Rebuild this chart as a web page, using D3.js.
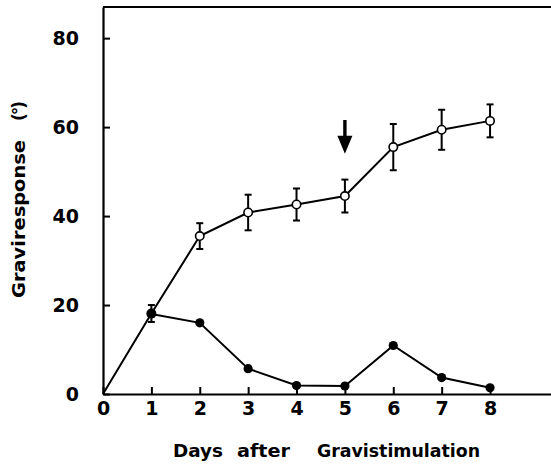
<!DOCTYPE html>
<html>
<head>
<meta charset="utf-8">
<script src="https://cdn.jsdelivr.net/npm/d3@7"></script>
<style>
  html, body { margin: 0; padding: 0; background: #fff; }
  svg { display: block; }
</style>
</head>
<body>
<svg id="chart" width="551" height="465"></svg>
<script>
// ---- data ----
const openDays   = [0, 1, 2, 3, 4, 5, 6, 7, 8];
const openValues = [0, 18.1, 35.5, 40.8, 42.6, 44.5, 55.5, 59.4, 61.4];
const openErrors = [0, 1.9, 2.9, 4.0, 3.6, 3.7, 5.2, 4.5, 3.7];
const filledDays   = [1, 2, 3, 4, 5, 6, 7, 8];
const filledValues = [18.0, 16.0, 5.7, 1.9, 1.8, 10.9, 3.7, 1.4];
const xTicks = [0, 1, 2, 3, 4, 5, 6, 7, 8];
const yTicks = [0, 20, 40, 60, 80];
const arrowDay = 5, arrowTop = 61.6, arrowBottom = 54.0;

const svg = d3.select("#chart");
const x = d3.scaleLinear().domain([0, 9.26]).range([103, 551]);
const y = d3.scaleLinear().domain([0, 87]).range([394, 7]);

const numFont = "'DejaVu Sans', sans-serif";
const titleFont = "'DejaVu Sans', sans-serif";

// top frame line
svg.append("line")
  .attr("x1", x(0)).attr("x2", x(9.26))
  .attr("y1", y(87)).attr("y2", y(87))
  .attr("stroke", "#000").attr("stroke-width", 2);

// axes
const yAxis = d3.axisLeft(y).tickValues(yTicks).tickSizeInner(-7).tickSizeOuter(0).tickPadding(24)
  .tickFormat(d3.format("d"));
const gy = svg.append("g").attr("transform", `translate(${x(0)},0)`).call(yAxis);
const xAxis = d3.axisBottom(x).tickValues(xTicks).tickSizeInner(-7).tickSizeOuter(0).tickPadding(8)
  .tickFormat(d3.format("d"));
const gx = svg.append("g").attr("transform", `translate(0,${y(0)})`).call(xAxis);

[gx, gy].forEach(g => {
  g.select(".domain").attr("stroke", "#000").attr("stroke-width", 2.2);
  g.selectAll(".tick line").attr("stroke", "#000").attr("stroke-width", 2);
  g.selectAll(".tick text").attr("fill", "#000")
    .style("font-family", numFont).style("font-weight", "bold").style("font-size", "19px");
});

// axis titles
const yt = svg.append("g").attr("transform", "translate(25,0) rotate(-90)");
yt.append("text").attr("x", -219).attr("y", 0).attr("text-anchor", "middle")
  .attr("textLength", 158).attr("lengthAdjust", "spacingAndGlyphs")
  .style("font-family", titleFont).style("font-weight", "bold").style("font-size", "17px")
  .text("Graviresponse");
yt.append("text").attr("x", -111).attr("y", 0).attr("text-anchor", "middle")
  .attr("textLength", 20).attr("lengthAdjust", "spacing")
  .style("font-family", titleFont).style("font-weight", "bold").style("font-size", "17px")
  .text("(°)");

const xtWords = [["Days", 173, 50], ["after", 237, 53], ["Gravistimulation", 317, 163]];
svg.selectAll("text.xtitle").data(xtWords).enter().append("text")
  .attr("class", "xtitle")
  .attr("x", d => d[1]).attr("y", 457)
  .attr("textLength", d => d[2]).attr("lengthAdjust", "spacingAndGlyphs")
  .style("font-family", titleFont).style("font-weight", "bold").style("font-size", "17px")
  .text(d => d[0]);

// lines
const openData = openDays.map((d, i) => ({ x: d, y: openValues[i], e: openErrors[i] }));
const filledData = filledDays.map((d, i) => ({ x: d, y: filledValues[i] }));
const line = d3.line().x(d => x(d.x)).y(d => y(d.y));

svg.append("path").datum(openData).attr("d", line)
  .attr("fill", "none").attr("stroke", "#000").attr("stroke-width", 2);
svg.append("path").datum(filledData).attr("d", line)
  .attr("fill", "none").attr("stroke", "#000").attr("stroke-width", 2);

// error bars
const eb = svg.append("g").selectAll("g").data(openData.filter(d => d.e > 0)).enter().append("g");
eb.append("line").attr("x1", d => x(d.x)).attr("x2", d => x(d.x))
  .attr("y1", d => y(d.y + d.e)).attr("y2", d => y(d.y - d.e))
  .attr("stroke", "#000").attr("stroke-width", 2);
eb.append("line").attr("x1", d => x(d.x) - 3.5).attr("x2", d => x(d.x) + 3.5)
  .attr("y1", d => y(d.y + d.e)).attr("y2", d => y(d.y + d.e))
  .attr("stroke", "#000").attr("stroke-width", 2);
eb.append("line").attr("x1", d => x(d.x) - 3.5).attr("x2", d => x(d.x) + 3.5)
  .attr("y1", d => y(d.y - d.e)).attr("y2", d => y(d.y - d.e))
  .attr("stroke", "#000").attr("stroke-width", 2);

// markers
svg.append("g").selectAll("circle").data(openData.filter(d => d.x > 0)).enter().append("circle")
  .attr("cx", d => x(d.x)).attr("cy", d => y(d.y)).attr("r", 4.2)
  .attr("fill", "#fff").attr("stroke", "#000").attr("stroke-width", 1.6);
svg.append("g").selectAll("circle").data(filledData).enter().append("circle")
  .attr("cx", d => x(d.x)).attr("cy", d => y(d.y)).attr("r", 4.6)
  .attr("fill", "#000");

// arrow
const ax = x(arrowDay), aTop = y(arrowTop), aBot = y(arrowBottom);
const headH = 18;
svg.append("path")
  .attr("d", `M${ax - 1.7},${aTop} L${ax + 1.7},${aTop} L${ax + 1.7},${aBot - headH} L${ax + 7.5},${aBot - headH}
              L${ax},${aBot} L${ax - 7.5},${aBot - headH} L${ax - 1.7},${aBot - headH} Z`)
  .attr("fill", "#000");
</script>
</body>
</html>
